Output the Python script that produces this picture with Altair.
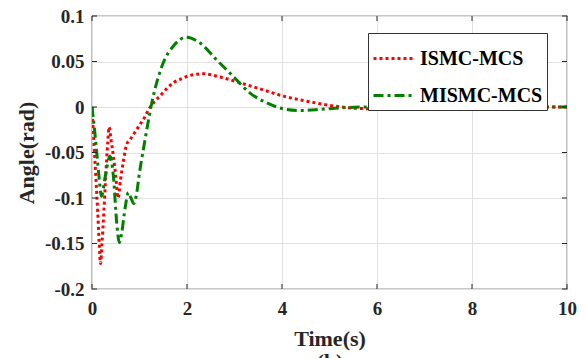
import altair as alt
import pandas as pd

series_names = ["ISMC-MCS", "MISMC-MCS"]
series_colors = ["#ff0000", "#007f00"]
series_dashes = [[3, 3], [10, 4, 3, 4]]

t_ismc = [0, 0.04, 0.08, 0.12, 0.15, 0.18, 0.21, 0.25, 0.29, 0.33, 0.36, 0.4, 0.45, 0.5,
          0.55, 0.6, 0.66, 0.73, 0.8, 0.9, 1.0, 1.1, 1.19, 1.3, 1.43, 1.57, 1.71, 1.88,
          2.06, 2.34, 2.69, 3.12, 3.47, 4.03, 4.52, 5.08, 5.5, 6.0, 6.5, 7.0, 7.5, 8, 9, 10]
v_ismc = [0, -0.038, -0.076, -0.115, -0.148, -0.172, -0.15, -0.115, -0.075, -0.04, -0.022,
          -0.036, -0.054, -0.076, -0.1, -0.08, -0.06, -0.041, -0.036, -0.028, -0.02, -0.012,
          -0.003, 0.005, 0.012, 0.02, 0.0266, 0.031, 0.0346, 0.0365, 0.033, 0.0266, 0.021,
          0.012, 0.0064, 0.0012, -0.0012, -0.002, -0.0018, -0.001, -0.0004, 0, 0, 0]

t_mismc = [0, 0.05, 0.1, 0.15, 0.2, 0.28, 0.38, 0.45, 0.52, 0.575, 0.62, 0.7, 0.765, 0.82,
           0.88, 0.93, 1.0, 1.08, 1.17, 1.26, 1.38, 1.5, 1.71, 1.99, 2.27, 2.62, 2.97, 3.32,
           3.68, 4.03, 4.38, 4.8, 5.22, 5.7, 6.5, 7, 8, 9, 10]
v_mismc = [0, -0.023, -0.05, -0.078, -0.098, -0.076, -0.054, -0.076, -0.127, -0.149, -0.14,
           -0.11, -0.094, -0.1, -0.106, -0.098, -0.072, -0.047, -0.02, 0.005, 0.03, 0.0486,
           0.0668, 0.0767, 0.0705, 0.052, 0.0338, 0.0156, 0.0046, -0.002, -0.0038, -0.0027,
           -0.001, 0, 0.0005, 0, 0, 0, 0]

x_ticks = [0, 2, 4, 6, 8, 10]
y_ticks = [-0.2, -0.15, -0.1, -0.05, 0, 0.05, 0.1]

df = pd.concat([
    pd.DataFrame({"t": t_ismc, "v": v_ismc, "series": series_names[0]}),
    pd.DataFrame({"t": t_mismc, "v": v_mismc, "series": series_names[1]}),
])
xt = pd.DataFrame({"t": x_ticks})
yt = pd.DataFrame({"v": y_ticks})

W, H = 475, 273
FONT = "Liberation Serif"
TXT = "#262626"

x_scale = alt.Scale(domain=[0, 10], nice=False)
y_scale = alt.Scale(domain=[-0.2, 0.1], nice=False)
axis_style = dict(labelFont=FONT, labelFontWeight="bold", labelFontSize=19, labelColor=TXT,
                  titleFont=FONT, titleFontWeight="bold", titleFontSize=22, titleColor=TXT,
                  labelFlush=False, labelOverlap=False)
x_axis = alt.Axis(values=x_ticks, title=["Time(s)", "(b)"], titleLineHeight=23,
                  labelPadding=10, titlePadding=10, **axis_style)
y_axis = alt.Axis(values=y_ticks, title="Angle(rad)", labelExpr="toString(datum.value)",
                  labelPadding=8, titlePadding=6, **axis_style)

legend = alt.Legend(title=None, orient="none", legendX=276, legendY=17,
                    symbolType="stroke", symbolStrokeWidth=3, symbolSize=1600,
                    labelFont=FONT, labelFontWeight="bold", labelFontSize=20,
                    labelColor="black", strokeColor="#333", fillColor="white",
                    padding=4, rowPadding=5, labelOffset=5)

lines = alt.Chart(df).mark_line(strokeWidth=3, interpolate="monotone", clip=True).encode(
    x=alt.X("t:Q", scale=x_scale, axis=x_axis),
    y=alt.Y("v:Q", scale=y_scale, axis=y_axis),
    color=alt.Color("series:N", scale=alt.Scale(domain=series_names, range=series_colors), legend=legend),
    strokeDash=alt.StrokeDash("series:N", scale=alt.Scale(domain=series_names, range=series_dashes), legend=legend),
)

tick_style = dict(color=TXT, strokeWidth=1)
yl = alt.Chart(yt).mark_rule(**tick_style).encode(
    y=alt.Y("v:Q", scale=y_scale, axis=y_axis), x=alt.value(0), x2=alt.value(5))
yr = alt.Chart(yt).mark_rule(**tick_style).encode(
    y=alt.Y("v:Q", scale=y_scale, axis=y_axis), x=alt.value(W - 5), x2=alt.value(W))
xb = alt.Chart(xt).mark_rule(**tick_style).encode(
    x=alt.X("t:Q", scale=x_scale, axis=x_axis), y=alt.value(H - 5), y2=alt.value(H))
xtp = alt.Chart(xt).mark_rule(**tick_style).encode(
    x=alt.X("t:Q", scale=x_scale, axis=x_axis), y=alt.value(0), y2=alt.value(5))

chart = alt.layer(lines, yl, yr, xb, xtp).properties(
    width=W, height=H,
    autosize=alt.AutoSizeParams(type="none"),
    padding={"left": 84, "top": 8, "right": 10, "bottom": 69},
).configure_view(
    stroke=TXT, strokeWidth=1.2
).configure_axis(
    domain=False, ticks=False, grid=True, gridColor="#e0e0e0", gridWidth=1,
)

chart.save("out.html", embed_options={"renderer": "svg", "actions": False})
